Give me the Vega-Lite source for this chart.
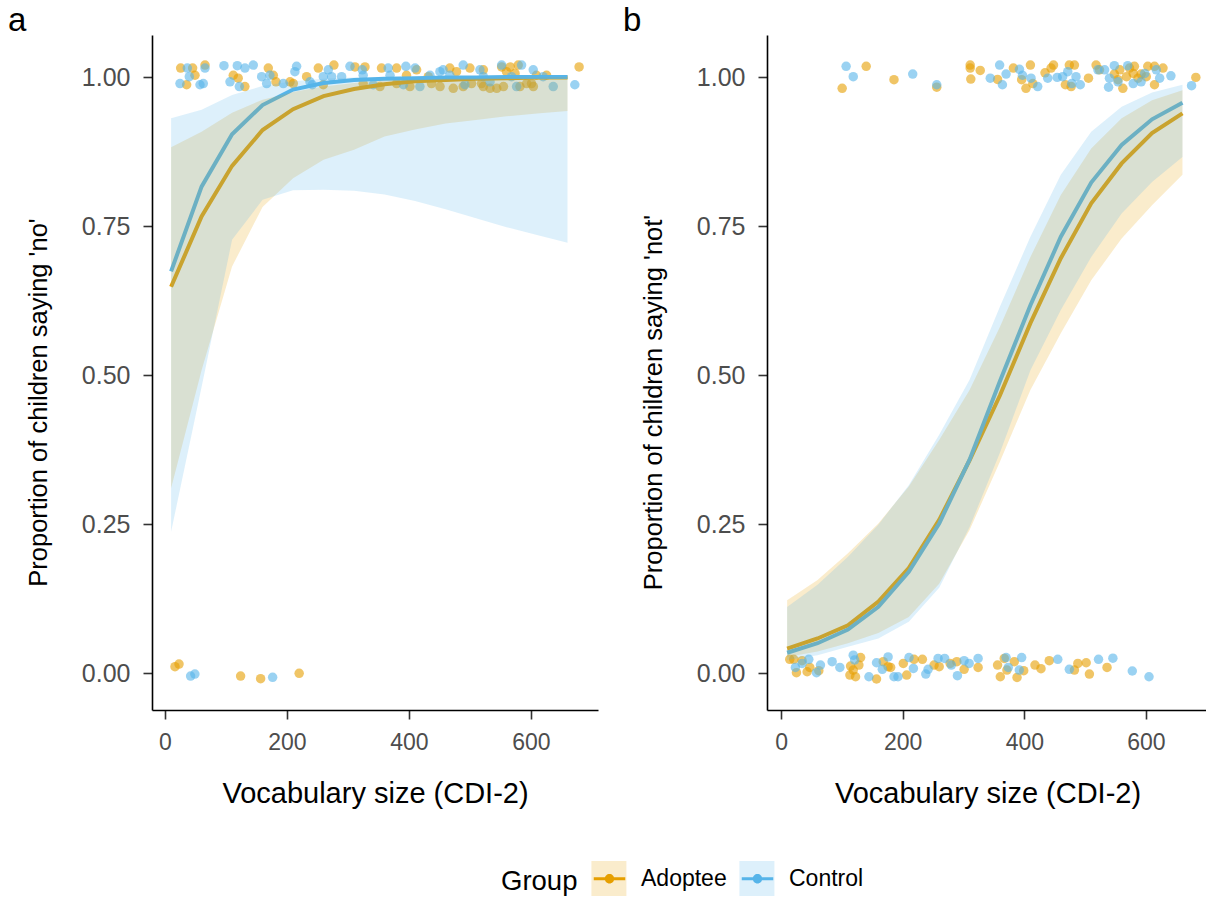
{
"$schema": "https://vega.github.io/schema/vega-lite/v6.json",
"padding": {"left": 8, "top": 5, "right": 0, "bottom": 0},
"autosize": {"type": "pad"},
"background": "white",
"config": {
  "font": "Liberation Sans",
  "view": {"stroke": null},
  "axis": {"grid": false, "domainColor": "black", "domainWidth": 1.6, "tickColor": "#333333", "tickWidth": 1.6, "tickSize": 9, "labelColor": "#4D4D4D", "titleFontWeight": "normal", "titleColor": "black", "labelFont": "Liberation Sans", "titleFont": "Liberation Sans"},
  "axisX": {"labelFontSize": 23, "titleFontSize": 29, "labelPadding": 12, "titlePadding": 25},
  "axisY": {"labelFontSize": 25, "titleFontSize": 25.5, "labelPadding": 13, "titlePadding": 30, "titleY": 367},
  "legend": {"labelFontSize": 23, "titleFontSize": 27.5, "titleFontWeight": "normal", "labelColor": "black", "titleColor": "black", "labelOffset": 14, "titlePadding": 14, "columnPadding": 13, "padding": 0, "symbolStrokeWidth": 0, "labelFont": "Liberation Sans", "titleFont": "Liberation Sans"},
  "title": {"fontSize": 33, "fontWeight": "normal", "color": "black", "font": "Liberation Sans"}
},
"datasets": {
  "cur": [
    {"p":"a","g":"Adoptee","x":10,"f":0.648,"lo":0.310,"hi":0.882},
    {"p":"a","g":"Adoptee","x":60,"f":0.766,"lo":0.508,"hi":0.908},
    {"p":"a","g":"Adoptee","x":110,"f":0.851,"lo":0.682,"hi":0.940},
    {"p":"a","g":"Adoptee","x":160,"f":0.911,"lo":0.782,"hi":0.962},
    {"p":"a","g":"Adoptee","x":210,"f":0.946,"lo":0.830,"hi":0.975},
    {"p":"a","g":"Adoptee","x":260,"f":0.968,"lo":0.861,"hi":0.984},
    {"p":"a","g":"Adoptee","x":310,"f":0.980,"lo":0.878,"hi":0.990},
    {"p":"a","g":"Adoptee","x":360,"f":0.988,"lo":0.900,"hi":0.994},
    {"p":"a","g":"Adoptee","x":410,"f":0.993,"lo":0.912,"hi":0.996},
    {"p":"a","g":"Adoptee","x":460,"f":0.995,"lo":0.922,"hi":0.997},
    {"p":"a","g":"Adoptee","x":510,"f":0.997,"lo":0.928,"hi":0.998},
    {"p":"a","g":"Adoptee","x":560,"f":0.998,"lo":0.934,"hi":0.999},
    {"p":"a","g":"Adoptee","x":610,"f":0.999,"lo":0.939,"hi":0.999},
    {"p":"a","g":"Adoptee","x":660,"f":0.999,"lo":0.943,"hi":1.000},
    {"p":"a","g":"Control","x":10,"f":0.674,"lo":0.237,"hi":0.931},
    {"p":"a","g":"Control","x":60,"f":0.816,"lo":0.480,"hi":0.945},
    {"p":"a","g":"Control","x":110,"f":0.904,"lo":0.727,"hi":0.970},
    {"p":"a","g":"Control","x":160,"f":0.953,"lo":0.794,"hi":0.985},
    {"p":"a","g":"Control","x":210,"f":0.979,"lo":0.810,"hi":0.993},
    {"p":"a","g":"Control","x":260,"f":0.990,"lo":0.811,"hi":0.997},
    {"p":"a","g":"Control","x":310,"f":0.995,"lo":0.809,"hi":0.999},
    {"p":"a","g":"Control","x":360,"f":0.997,"lo":0.803,"hi":0.9995},
    {"p":"a","g":"Control","x":410,"f":0.998,"lo":0.792,"hi":1.0},
    {"p":"a","g":"Control","x":460,"f":0.999,"lo":0.778,"hi":1.0},
    {"p":"a","g":"Control","x":510,"f":0.999,"lo":0.763,"hi":1.0},
    {"p":"a","g":"Control","x":560,"f":1.0,"lo":0.748,"hi":1.0},
    {"p":"a","g":"Control","x":610,"f":1.0,"lo":0.735,"hi":1.0},
    {"p":"a","g":"Control","x":660,"f":1.0,"lo":0.722,"hi":1.0},
    {"p":"b","g":"Adoptee","x":10,"f":0.041,"lo":0.027,"hi":0.122},
    {"p":"b","g":"Adoptee","x":60,"f":0.058,"lo":0.036,"hi":0.156},
    {"p":"b","g":"Adoptee","x":110,"f":0.080,"lo":0.050,"hi":0.201},
    {"p":"b","g":"Adoptee","x":160,"f":0.120,"lo":0.067,"hi":0.251},
    {"p":"b","g":"Adoptee","x":210,"f":0.176,"lo":0.094,"hi":0.313},
    {"p":"b","g":"Adoptee","x":260,"f":0.257,"lo":0.150,"hi":0.391},
    {"p":"b","g":"Adoptee","x":310,"f":0.357,"lo":0.240,"hi":0.475},
    {"p":"b","g":"Adoptee","x":360,"f":0.466,"lo":0.355,"hi":0.581},
    {"p":"b","g":"Adoptee","x":410,"f":0.587,"lo":0.475,"hi":0.698},
    {"p":"b","g":"Adoptee","x":460,"f":0.696,"lo":0.570,"hi":0.802},
    {"p":"b","g":"Adoptee","x":510,"f":0.788,"lo":0.659,"hi":0.880},
    {"p":"b","g":"Adoptee","x":560,"f":0.855,"lo":0.729,"hi":0.931},
    {"p":"b","g":"Adoptee","x":610,"f":0.906,"lo":0.785,"hi":0.961},
    {"p":"b","g":"Adoptee","x":660,"f":0.939,"lo":0.836,"hi":0.978},
    {"p":"b","g":"Control","x":10,"f":0.034,"lo":0.022,"hi":0.111},
    {"p":"b","g":"Control","x":60,"f":0.050,"lo":0.030,"hi":0.148},
    {"p":"b","g":"Control","x":110,"f":0.073,"lo":0.044,"hi":0.195},
    {"p":"b","g":"Control","x":160,"f":0.111,"lo":0.058,"hi":0.249},
    {"p":"b","g":"Control","x":210,"f":0.170,"lo":0.086,"hi":0.315},
    {"p":"b","g":"Control","x":260,"f":0.251,"lo":0.143,"hi":0.400},
    {"p":"b","g":"Control","x":310,"f":0.358,"lo":0.245,"hi":0.492},
    {"p":"b","g":"Control","x":360,"f":0.490,"lo":0.370,"hi":0.615},
    {"p":"b","g":"Control","x":410,"f":0.617,"lo":0.508,"hi":0.732},
    {"p":"b","g":"Control","x":460,"f":0.732,"lo":0.609,"hi":0.836},
    {"p":"b","g":"Control","x":510,"f":0.823,"lo":0.698,"hi":0.908},
    {"p":"b","g":"Control","x":560,"f":0.886,"lo":0.771,"hi":0.950},
    {"p":"b","g":"Control","x":610,"f":0.929,"lo":0.824,"hi":0.974},
    {"p":"b","g":"Control","x":660,"f":0.957,"lo":0.866,"hi":0.987}
  ],
  "pts": [
    {"p":"a","g":"Adoptee","x":25.7,"y":1.015},{"p":"a","g":"Adoptee","x":45.3,"y":1.015},{"p":"a","g":"Adoptee","x":49.2,"y":1.003},{"p":"a","g":"Adoptee","x":65.6,"y":1.020},{"p":"a","g":"Adoptee","x":35.5,"y":0.987},{"p":"a","g":"Adoptee","x":112,"y":1.003},{"p":"a","g":"Adoptee","x":120,"y":0.998},{"p":"a","g":"Adoptee","x":131,"y":0.984},{"p":"a","g":"Adoptee","x":169.4,"y":1.015},{"p":"a","g":"Adoptee","x":177.6,"y":1.003},{"p":"a","g":"Adoptee","x":182,"y":0.992},{"p":"a","g":"Adoptee","x":205,"y":0.992},{"p":"a","g":"Adoptee","x":210.4,"y":0.989},{"p":"a","g":"Adoptee","x":232.2,"y":1.0005},{"p":"a","g":"Adoptee","x":251.4,"y":1.015},{"p":"a","g":"Adoptee","x":259.6,"y":0.987},{"p":"a","g":"Adoptee","x":277,"y":1.020},{"p":"a","g":"Adoptee","x":311.5,"y":1.017},{"p":"a","g":"Adoptee","x":327.9,"y":1.017},{"p":"a","g":"Adoptee","x":325,"y":0.989},{"p":"a","g":"Adoptee","x":355,"y":1.015},{"p":"a","g":"Adoptee","x":379.8,"y":1.015},{"p":"a","g":"Adoptee","x":396,"y":1.003},{"p":"a","g":"Adoptee","x":412.6,"y":1.012},{"p":"a","g":"Adoptee","x":431.7,"y":1.0005},{"p":"a","g":"Adoptee","x":437,"y":0.989},{"p":"a","g":"Adoptee","x":467,"y":1.015},{"p":"a","g":"Adoptee","x":472.7,"y":0.981},{"p":"a","g":"Adoptee","x":478,"y":1.009},{"p":"a","g":"Adoptee","x":489,"y":0.984},{"p":"a","g":"Adoptee","x":500,"y":1.015},{"p":"a","g":"Adoptee","x":502.7,"y":0.989},{"p":"a","g":"Adoptee","x":519,"y":0.989},{"p":"a","g":"Adoptee","x":522,"y":1.012},{"p":"a","g":"Adoptee","x":533,"y":0.981},{"p":"a","g":"Adoptee","x":544,"y":0.981},{"p":"a","g":"Adoptee","x":552,"y":1.017},{"p":"a","g":"Adoptee","x":555,"y":0.984},{"p":"a","g":"Adoptee","x":560,"y":1.009},{"p":"a","g":"Adoptee","x":566,"y":1.017},{"p":"a","g":"Adoptee","x":574,"y":1.006},{"p":"a","g":"Adoptee","x":579.2,"y":1.020},{"p":"a","g":"Adoptee","x":582,"y":0.984},{"p":"a","g":"Adoptee","x":593,"y":0.989},{"p":"a","g":"Adoptee","x":601,"y":0.989},{"p":"a","g":"Adoptee","x":609,"y":1.003},{"p":"a","g":"Adoptee","x":625.7,"y":1.003},{"p":"a","g":"Adoptee","x":679,"y":1.017},{"p":"a","g":"Adoptee","x":604,"y":0.984},{"p":"a","g":"Adoptee","x":522,"y":0.984},{"p":"a","g":"Adoptee","x":451,"y":0.984},{"p":"a","g":"Adoptee","x":401.6,"y":0.984},{"p":"a","g":"Adoptee","x":379.8,"y":0.989},{"p":"a","g":"Adoptee","x":352.5,"y":0.984},
    {"p":"a","g":"Control","x":24.6,"y":0.989},{"p":"a","g":"Control","x":36.6,"y":1.015},{"p":"a","g":"Control","x":39.9,"y":1.0005},{"p":"a","g":"Control","x":57.4,"y":0.987},{"p":"a","g":"Control","x":62.8,"y":0.989},{"p":"a","g":"Control","x":65.6,"y":1.015},{"p":"a","g":"Control","x":96.7,"y":1.019},{"p":"a","g":"Control","x":106.6,"y":0.992},{"p":"a","g":"Control","x":118.6,"y":1.019},{"p":"a","g":"Control","x":121.9,"y":0.984},{"p":"a","g":"Control","x":131.1,"y":1.015},{"p":"a","g":"Control","x":144.8,"y":1.020},{"p":"a","g":"Control","x":158.5,"y":1.0005},{"p":"a","g":"Control","x":166.7,"y":0.989},{"p":"a","g":"Control","x":172,"y":1.003},{"p":"a","g":"Control","x":194,"y":0.989},{"p":"a","g":"Control","x":213,"y":1.009},{"p":"a","g":"Control","x":215.8,"y":1.018},{"p":"a","g":"Control","x":237.7,"y":0.992},{"p":"a","g":"Control","x":241.5,"y":0.987},{"p":"a","g":"Control","x":259.6,"y":1.0005},{"p":"a","g":"Control","x":267.8,"y":1.012},{"p":"a","g":"Control","x":273.2,"y":1.0005},{"p":"a","g":"Control","x":289.6,"y":1.0005},{"p":"a","g":"Control","x":303.3,"y":1.018},{"p":"a","g":"Control","x":323.5,"y":1.012},{"p":"a","g":"Control","x":341.5,"y":0.987},{"p":"a","g":"Control","x":366,"y":1.015},{"p":"a","g":"Control","x":369,"y":1.003},{"p":"a","g":"Control","x":391,"y":0.987},{"p":"a","g":"Control","x":395,"y":1.018},{"p":"a","g":"Control","x":410,"y":1.015},{"p":"a","g":"Control","x":418,"y":0.984},{"p":"a","g":"Control","x":434.4,"y":1.003},{"p":"a","g":"Control","x":450.8,"y":1.009},{"p":"a","g":"Control","x":456,"y":1.012},{"p":"a","g":"Control","x":489,"y":1.020},{"p":"a","g":"Control","x":491.8,"y":0.987},{"p":"a","g":"Control","x":516.4,"y":1.012},{"p":"a","g":"Control","x":533,"y":0.992},{"p":"a","g":"Control","x":552,"y":1.020},{"p":"a","g":"Control","x":568.3,"y":1.0005},{"p":"a","g":"Control","x":576.5,"y":0.984},{"p":"a","g":"Control","x":584.7,"y":1.020},{"p":"a","g":"Control","x":603.8,"y":1.012},{"p":"a","g":"Control","x":620,"y":1.0005},{"p":"a","g":"Control","x":636.6,"y":0.984},{"p":"a","g":"Control","x":672,"y":0.987},{"p":"a","g":"Control","x":522,"y":1.0005},{"p":"a","g":"Control","x":467,"y":1.003},{"p":"a","g":"Control","x":325,"y":1.003},
    {"p":"a","g":"Adoptee","x":16.4,"y":0.0106},{"p":"a","g":"Adoptee","x":23,"y":0.015},{"p":"a","g":"Adoptee","x":124,"y":-0.005},{"p":"a","g":"Adoptee","x":156.8,"y":-0.0095},{"p":"a","g":"Adoptee","x":220,"y":-0.0005},
    {"p":"a","g":"Control","x":42,"y":-0.005},{"p":"a","g":"Control","x":49,"y":-0.0017},{"p":"a","g":"Control","x":176.5,"y":-0.0072},
    {"p":"b","g":"Adoptee","x":100.5,"y":0.981},{"p":"b","g":"Adoptee","x":140,"y":1.018},{"p":"b","g":"Adoptee","x":185.7,"y":0.9955},{"p":"b","g":"Adoptee","x":256,"y":0.983},{"p":"b","g":"Adoptee","x":311,"y":1.020},{"p":"b","g":"Adoptee","x":311,"y":1.015},{"p":"b","g":"Adoptee","x":312,"y":0.9966},{"p":"b","g":"Adoptee","x":327.5,"y":1.011},{"p":"b","g":"Adoptee","x":356,"y":0.996},{"p":"b","g":"Adoptee","x":382,"y":1.015},{"p":"b","g":"Adoptee","x":395.6,"y":0.9955},{"p":"b","g":"Adoptee","x":402.7,"y":0.981},{"p":"b","g":"Adoptee","x":410,"y":1.020},{"p":"b","g":"Adoptee","x":414,"y":0.989},{"p":"b","g":"Adoptee","x":434,"y":1.007},{"p":"b","g":"Adoptee","x":444,"y":1.015},{"p":"b","g":"Adoptee","x":448,"y":1.020},{"p":"b","g":"Adoptee","x":467.5,"y":0.987},{"p":"b","g":"Adoptee","x":474,"y":1.020},{"p":"b","g":"Adoptee","x":477,"y":0.984},{"p":"b","g":"Adoptee","x":482.4,"y":1.020},{"p":"b","g":"Adoptee","x":505.5,"y":0.998},{"p":"b","g":"Adoptee","x":518,"y":1.020},{"p":"b","g":"Adoptee","x":523.6,"y":1.012},{"p":"b","g":"Adoptee","x":548,"y":1.005},{"p":"b","g":"Adoptee","x":557,"y":1.012},{"p":"b","g":"Adoptee","x":562,"y":0.981},{"p":"b","g":"Adoptee","x":568,"y":1.0005},{"p":"b","g":"Adoptee","x":573,"y":1.015},{"p":"b","g":"Adoptee","x":579,"y":1.006},{"p":"b","g":"Adoptee","x":581,"y":1.018},{"p":"b","g":"Adoptee","x":587,"y":0.998},{"p":"b","g":"Adoptee","x":592,"y":1.005},{"p":"b","g":"Adoptee","x":600.5,"y":1.0005},{"p":"b","g":"Adoptee","x":603,"y":1.018},{"p":"b","g":"Adoptee","x":614,"y":1.018},{"p":"b","g":"Adoptee","x":614,"y":0.987},{"p":"b","g":"Adoptee","x":628,"y":1.015},{"p":"b","g":"Adoptee","x":682,"y":0.9994},{"p":"b","g":"Adoptee","x":554,"y":0.9955},
    {"p":"b","g":"Control","x":107,"y":1.018},{"p":"b","g":"Control","x":118.7,"y":1.0005},{"p":"b","g":"Control","x":216.5,"y":1.005},{"p":"b","g":"Control","x":256,"y":0.987},{"p":"b","g":"Control","x":344,"y":0.998},{"p":"b","g":"Control","x":359.4,"y":1.020},{"p":"b","g":"Control","x":364,"y":0.987},{"p":"b","g":"Control","x":370,"y":1.005},{"p":"b","g":"Control","x":392,"y":1.013},{"p":"b","g":"Control","x":397,"y":1.003},{"p":"b","g":"Control","x":411,"y":0.998},{"p":"b","g":"Control","x":422,"y":0.984},{"p":"b","g":"Control","x":438.5,"y":0.998},{"p":"b","g":"Control","x":454,"y":0.9994},{"p":"b","g":"Control","x":463,"y":1.0005},{"p":"b","g":"Control","x":471.4,"y":1.009},{"p":"b","g":"Control","x":478,"y":0.989},{"p":"b","g":"Control","x":485,"y":1.0005},{"p":"b","g":"Control","x":492,"y":0.987},{"p":"b","g":"Control","x":521,"y":1.012},{"p":"b","g":"Control","x":532,"y":1.012},{"p":"b","g":"Control","x":540,"y":0.998},{"p":"b","g":"Control","x":548,"y":1.019},{"p":"b","g":"Control","x":554,"y":0.992},{"p":"b","g":"Control","x":570,"y":1.019},{"p":"b","g":"Control","x":579,"y":0.989},{"p":"b","g":"Control","x":592,"y":0.992},{"p":"b","g":"Control","x":598,"y":1.006},{"p":"b","g":"Control","x":617,"y":1.012},{"p":"b","g":"Control","x":622.5,"y":0.998},{"p":"b","g":"Control","x":641,"y":1.002},{"p":"b","g":"Control","x":675,"y":0.9855},{"p":"b","g":"Control","x":538.5,"y":0.983},
    {"p":"b","g":"Adoptee","x":14.3,"y":0.023},{"p":"b","g":"Adoptee","x":20.9,"y":0.023},{"p":"b","g":"Adoptee","x":25.3,"y":0.0006},{"p":"b","g":"Adoptee","x":34.6,"y":0.0207},{"p":"b","g":"Adoptee","x":42.9,"y":0.0022},{"p":"b","g":"Adoptee","x":47.3,"y":0.0095},{"p":"b","g":"Adoptee","x":62.1,"y":0.0039},{"p":"b","g":"Adoptee","x":113.2,"y":-0.0034},{"p":"b","g":"Adoptee","x":118.7,"y":0.005},{"p":"b","g":"Adoptee","x":122.5,"y":-0.0062},{"p":"b","g":"Adoptee","x":128,"y":0.0134},{"p":"b","g":"Adoptee","x":130.8,"y":0.026},{"p":"b","g":"Adoptee","x":157,"y":-0.010},{"p":"b","g":"Adoptee","x":168,"y":0.019},{"p":"b","g":"Adoptee","x":176,"y":0.0106},{"p":"b","g":"Adoptee","x":180.2,"y":0.0095},{"p":"b","g":"Adoptee","x":201,"y":0.0162},{"p":"b","g":"Adoptee","x":206.6,"y":-0.0034},{"p":"b","g":"Adoptee","x":218.7,"y":0.023},{"p":"b","g":"Adoptee","x":232.4,"y":0.023},{"p":"b","g":"Adoptee","x":251.6,"y":0.0134},{"p":"b","g":"Adoptee","x":260,"y":0.0106},{"p":"b","g":"Adoptee","x":278,"y":0.0162},{"p":"b","g":"Adoptee","x":289,"y":0.019},{"p":"b","g":"Adoptee","x":301,"y":0.0062},{"p":"b","g":"Adoptee","x":324,"y":0.0095},{"p":"b","g":"Adoptee","x":356,"y":0.0134},{"p":"b","g":"Adoptee","x":360.5,"y":-0.0062},{"p":"b","g":"Adoptee","x":371.4,"y":0.005},{"p":"b","g":"Adoptee","x":383.5,"y":0.019},{"p":"b","g":"Adoptee","x":388,"y":-0.0073},{"p":"b","g":"Adoptee","x":399,"y":0.0039},{"p":"b","g":"Adoptee","x":417.5,"y":0.0134},{"p":"b","g":"Adoptee","x":427.4,"y":0.0073},{"p":"b","g":"Adoptee","x":441,"y":0.0207},{"p":"b","g":"Adoptee","x":482.4,"y":0.005},{"p":"b","g":"Adoptee","x":488,"y":0.0162},{"p":"b","g":"Adoptee","x":501.7,"y":0.0173},{"p":"b","g":"Adoptee","x":507,"y":-0.0017},{"p":"b","g":"Adoptee","x":536,"y":0.0095},{"p":"b","g":"Adoptee","x":367,"y":0.0246},{"p":"b","g":"Adoptee","x":114.3,"y":0.0117},
    {"p":"b","g":"Control","x":23.6,"y":0.0095},{"p":"b","g":"Control","x":34.6,"y":0.0162},{"p":"b","g":"Control","x":45.6,"y":0.023},{"p":"b","g":"Control","x":58.3,"y":0.0006},{"p":"b","g":"Control","x":64.8,"y":0.0134},{"p":"b","g":"Control","x":96.7,"y":0.0095},{"p":"b","g":"Control","x":118.7,"y":0.030},{"p":"b","g":"Control","x":121,"y":0.022},{"p":"b","g":"Control","x":144.5,"y":-0.0062},{"p":"b","g":"Control","x":157,"y":0.0173},{"p":"b","g":"Control","x":166.5,"y":0.0062},{"p":"b","g":"Control","x":176,"y":0.027},{"p":"b","g":"Control","x":185.7,"y":-0.0062},{"p":"b","g":"Control","x":192.3,"y":-0.0062},{"p":"b","g":"Control","x":210.4,"y":0.026},{"p":"b","g":"Control","x":217.6,"y":0.0078},{"p":"b","g":"Control","x":238,"y":-0.0017},{"p":"b","g":"Control","x":241.8,"y":0.0062},{"p":"b","g":"Control","x":258.2,"y":0.0246},{"p":"b","g":"Control","x":269,"y":0.0246},{"p":"b","g":"Control","x":280,"y":0.0134},{"p":"b","g":"Control","x":290,"y":-0.0045},{"p":"b","g":"Control","x":301,"y":0.0207},{"p":"b","g":"Control","x":309.3,"y":0.0162},{"p":"b","g":"Control","x":324,"y":0.0246},{"p":"b","g":"Control","x":370,"y":0.026},{"p":"b","g":"Control","x":373.6,"y":0.0095},{"p":"b","g":"Control","x":391.7,"y":0.005},{"p":"b","g":"Control","x":395.6,"y":0.026},{"p":"b","g":"Control","x":455,"y":0.023},{"p":"b","g":"Control","x":474,"y":0.0062},{"p":"b","g":"Control","x":522,"y":0.023},{"p":"b","g":"Control","x":545.6,"y":0.025},{"p":"b","g":"Control","x":577.5,"y":0.0034},{"p":"b","g":"Control","x":605,"y":-0.0062},{"p":"b","g":"Control","x":84,"y":0.019}
  ]
},
"spacing": 25,
"hconcat": [
  {
    "width": 446, "height": 675,
    "title": {"text": "a", "anchor": "start", "frame": "group", "baseline": "alphabetic", "offset": -29, "dx": -144},
    "layer": [
      {"data": {"name": "pts"}, "transform": [{"filter": "datum.p == 'a'"}],
       "mark": {"type": "point", "filled": true, "opacity": 0.6, "size": 90, "strokeWidth": 0},
       "encoding": {
         "x": {"field": "x", "type": "quantitative", "scale": {"domain": [-21.3, 710], "nice": false, "zero": false}, "axis": {"values": [0, 200, 400, 600], "title": "Vocabulary size (CDI-2)"}},
         "y": {"field": "y", "type": "quantitative", "scale": {"domain": [-0.062, 1.0705], "nice": false, "zero": false}, "axis": {"values": [0, 0.25, 0.5, 0.75, 1], "format": ".2f", "title": "Proportion of children saying 'no'"}},
         "color": {"field": "g", "type": "nominal", "scale": {"range": ["#E69F00", "#56B4E9"]},
           "legend": {"orient": "none", "legendX": 349, "legendY": 826, "direction": "horizontal", "titleOrient": "left", "titleAnchor": "middle", "titleBaseline": "line-top", "titleLineHeight": 12, "title": "Group", "symbolType": "M-0.9,-0.09L0.9,-0.09L0.9,0.09L-0.9,0.09Z M-0.27,0 A0.27,0.27 0 1,1 0.27,0 A0.27,0.27 0 1,1 -0.27,0 Z", "symbolSize": 1225, "symbolOpacity": 1, "zindex": 2,
             "encode": {"symbols": {"update": {"fill": {"scale": "color", "field": "value"}, "stroke": {"value": "transparent"}, "opacity": {"value": 1}}}}}}
       }},
      {"data": {"name": "cur"}, "transform": [{"filter": "datum.p == 'a'"}],
       "mark": {"type": "line", "strokeWidth": 4},
       "encoding": {
         "x": {"field": "x", "type": "quantitative"},
         "y": {"field": "f", "type": "quantitative"},
         "color": {"field": "g", "type": "nominal"}
       }},
      {"data": {"name": "cur"}, "transform": [{"filter": "datum.p == 'a'"}],
       "mark": {"type": "area", "opacity": 0.2},
       "encoding": {
         "x": {"field": "x", "type": "quantitative"},
         "y": {"field": "lo", "type": "quantitative"},
         "y2": {"field": "hi"},
         "fill": {"field": "g", "type": "nominal", "scale": {"domain": ["Adoptee", "Control"], "range": ["#E69F00", "#56B4E9"]},
           "legend": {"orient": "none", "legendX": 439.4, "legendY": 826, "direction": "horizontal", "title": null, "symbolType": "square", "symbolSize": 1225, "symbolOpacity": 0.2, "labelColor": "transparent", "zindex": 1}}
       }}
    ]
  },
  {
    "width": 441, "height": 675,
    "title": {"text": "b", "anchor": "start", "frame": "group", "baseline": "alphabetic", "offset": -29, "dx": -144},
    "layer": [
      {"data": {"name": "pts"}, "transform": [{"filter": "datum.p == 'b'"}],
       "mark": {"type": "point", "filled": true, "opacity": 0.6, "size": 90, "strokeWidth": 0},
       "encoding": {
         "x": {"field": "x", "type": "quantitative", "scale": {"domain": [-23.1, 702], "nice": false, "zero": false}, "axis": {"values": [0, 200, 400, 600], "title": "Vocabulary size (CDI-2)"}},
         "y": {"field": "y", "type": "quantitative", "scale": {"domain": [-0.062, 1.0705], "nice": false, "zero": false}, "axis": {"values": [0, 0.25, 0.5, 0.75, 1], "format": ".2f", "title": "Proportion of children saying 'not'"}},
         "color": {"field": "g", "type": "nominal"}
       }},
      {"data": {"name": "cur"}, "transform": [{"filter": "datum.p == 'b'"}],
       "mark": {"type": "line", "strokeWidth": 4},
       "encoding": {
         "x": {"field": "x", "type": "quantitative"},
         "y": {"field": "f", "type": "quantitative"},
         "color": {"field": "g", "type": "nominal"}
       }},
      {"data": {"name": "cur"}, "transform": [{"filter": "datum.p == 'b'"}],
       "mark": {"type": "area", "opacity": 0.2},
       "encoding": {
         "x": {"field": "x", "type": "quantitative"},
         "y": {"field": "lo", "type": "quantitative"},
         "y2": {"field": "hi"},
         "fill": {"field": "g", "type": "nominal"}
       }}
    ]
  }
]
}
